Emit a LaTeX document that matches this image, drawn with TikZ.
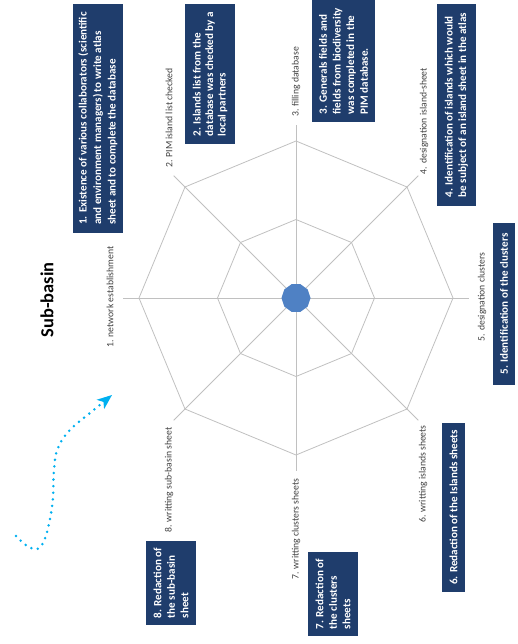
\documentclass[tikz,border=0pt]{standalone}
\usepackage{fontspec}
\setmainfont{Carlito}
\usetikzlibrary{arrows.meta}
\definecolor{navy}{RGB}{31,61,108}
\definecolor{gridgray}{RGB}{192,192,192}
\definecolor{series}{RGB}{79,129,196}
\definecolor{arrowblue}{RGB}{0,176,240}
\definecolor{labelgray}{RGB}{64,64,64}
\begin{document}
\begin{tikzpicture}[x=1pt,y=-1pt,
  gridline/.style={draw=gridgray, line width=0.8pt},
  axislabel/.style={rotate=90, font=\fontsize{9.7}{11.6}\selectfont, text=labelgray, inner sep=0pt},
  bluebox/.style={rotate=90, fill=navy, text=white, font=\fontsize{11.1}{13.5}\selectfont\bfseries, align=left, inner sep=0pt},
  flowarrow/.style={draw=arrowblue, line width=2.8pt, line cap=round, dash pattern=on 0pt off 6.6pt,
     -{Stealth[length=15pt,width=12pt,inset=4pt,line width=0pt]}}
]
\useasboundingbox (0,0) rectangle (517,644);
\coordinate (c) at (296,298);
% radar grid
\begin{scope}[shift={(296,298)}]
  \foreach \a in {0,45,...,315} \draw[gridline] (0,0) -- (\a:173);
  \draw[gridline] (0:157) \foreach \a in {45,90,...,315}{ -- (\a:157)} -- cycle;
  \draw[gridline] (0:78.5) \foreach \a in {45,90,...,315}{ -- (\a:78.5)} -- cycle;
  \fill[series] (0:14.5) \foreach \a in {36,72,...,324}{ -- (\a:14.5)} -- cycle;
\end{scope}
% axis labels
\node[axislabel] (l1) at (110,297) {1. network establishment};
\node[axislabel] (l2) at (169,118) {2. PIM island list checked};
\node[axislabel] (l3) at (296,82) {3. filling database};
\node[axislabel] (l4) at (424,121) {4. designation island-sheet};
\node[axislabel] (l5) at (482,297) {5. designation clusters};
\node[axislabel] (l6) at (423,474) {6. writting islands sheets};
\node[axislabel] (l7) at (296,529) {7. writting clusters sheets};
\node[axislabel] (l8) at (169,480) {8. writting sub-basin sheet};
% boxes
\node[bluebox, minimum width=229pt, minimum height=50pt,
  font=\fontsize{11.1}{14.5}\selectfont\bfseries] (b1) at (98,118.5)
  {1. Existence of various collaborators (scientific\\and environment managers) to write atlas\\sheet and to complete the database};
\node[bluebox, minimum width=140pt, minimum height=50pt,
  font=\fontsize{11.1}{12.5}\selectfont\bfseries] (b2) at (210,74)
  {2. Islands list from the\\database was checked by a\\local partners};
\node[bluebox, minimum width=122pt, minimum height=63pt,
  font=\fontsize{11.1}{13.7}\selectfont\bfseries] (b3) at (343.5,61)
  {3. Generals fields and\\fields from biodiversity\\was completed in the\\PIM database.};
\node[bluebox, minimum width=202pt, minimum height=39pt] (b4) at (456.5,105)
  {4. Identification of islands which would\\be subject of an island sheet in the atlas};
\node[bluebox, minimum width=162pt, minimum height=22pt] (b5) at (504,304)
  {5. Identification of the clusters};
\node[bluebox, minimum width=169pt, minimum height=23pt] (b6) at (453.5,507.5)
  {6. Redaction of the Islands sheets};
\node[bluebox, minimum width=84pt, minimum height=50pt] (b7) at (333,594)
  {7. Redaction of\\the clusters\\sheets};
\node[bluebox, minimum width=84pt, minimum height=50pt] (b8) at (171,583)
  {8. Redaction of\\the sub-basin\\sheet};
% title
\node[rotate=90, font=\fontsize{18.4}{22}\selectfont\bfseries, inner sep=0pt] (title) at (47,300) {Sub-basin};
% dotted arrow
\coordinate (s) at (16,536);
\coordinate (e) at (112,395);
\draw[flowarrow] plot[smooth, tension=0.7] coordinates {(s) (31,548) (43,543) (52,507) (54,470) (58,448) (70,430) (90,413) (e)};
\end{tikzpicture}
\end{document}
